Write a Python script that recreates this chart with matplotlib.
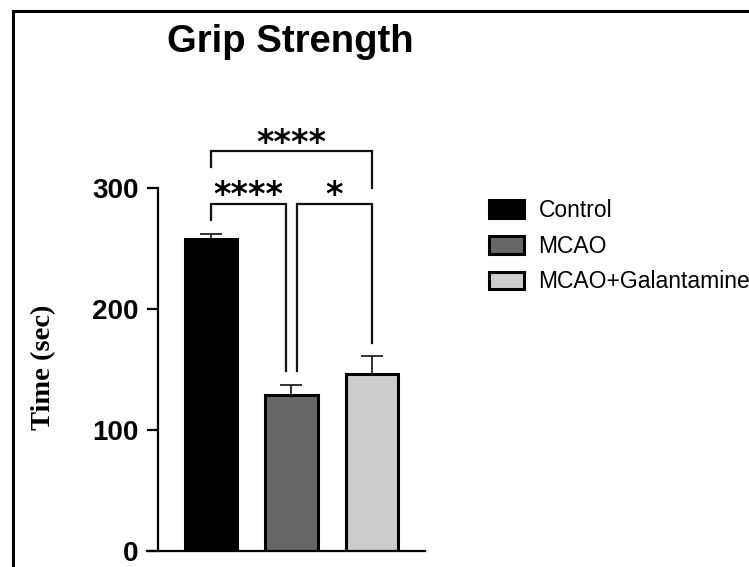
import numpy as np
import matplotlib.pyplot as plt
from matplotlib.patches import Rectangle, Patch

# Grip strength test, mean with upper SEM whisker
groups = ["Control", "MCAO", "MCAO+Galantamine"]
means = [258, 129, 146]
sem = [4, 8, 15]
fills = ["#000000", "#666666", "#cccccc"]

# significance brackets: (left x, right x, left leg end, right leg end, bar height, label)
brackets = [
    (0.0, 0.93, 274, 149, 287, "****"),
    (1.07, 2.0, 149, 172, 287, "*"),
    (0.0, 2.0, 318, 300, 330.5, "****"),
]

fig = plt.figure(figsize=(7.49, 5.67), dpi=100)
ax = fig.add_axes([0.1957, 0.0282, 0.3719, 0.725])

x = np.arange(len(groups))
ax.bar(x, means, width=0.65, color=fills, edgecolor="black", linewidth=2.2, zorder=2)
ax.errorbar(x, means, yerr=[np.zeros(3), sem], fmt="none", ecolor="#222222",
            elinewidth=1.3, capsize=8, capthick=1.3, zorder=1)

for x0, x1, y0, y1, top, lab in brackets:
    ax.plot([x0, x0, x1, x1], [y0, top, top, y1], color="#111111", lw=1.6,
            clip_on=False, solid_joinstyle="miter")
    ax.text((x0 + x1) / 2, top - 1, lab, ha="center", va="baseline", fontsize=24,
            fontweight="bold", family="DejaVu Sans", clip_on=False)

ax.set_xlim(-0.8, 2.66)
ax.set_ylim(0, 340)
ax.spines["left"].set_position(("data", -0.66))
ax.spines["left"].set_bounds(0, 300)
ax.spines["top"].set_visible(False)
ax.spines["right"].set_visible(False)
for s in ("left", "bottom"):
    ax.spines[s].set_linewidth(1.6)
ax.set_xticks([])
ax.set_yticks([0, 100, 200, 300])
ax.tick_params(axis="y", length=8, width=1.6, pad=6)
for t in ax.get_yticklabels():
    t.set_fontsize(20)
    t.set_fontweight("bold")
    t.set_family("Liberation Sans")

fig.text(0.058, 0.352, "Time (sec)", rotation=90, ha="center", va="center",
         fontsize=20.5, fontweight="bold", family="Liberation Serif")
fig.text(0.387, 1 - 52 / 567, "Grip Strength", ha="center", va="baseline",
         fontsize=27.5, fontweight="bold", family="Liberation Sans")

handles = [Patch(facecolor=c, edgecolor="black", linewidth=2.2) for c in fills]
fig.legend(handles, groups, loc="upper left", bbox_to_anchor=(0.641, 0.665),
           frameon=False, prop={"family": "Liberation Sans", "size": 16.5},
           handlelength=1.5, handleheight=0.8, handletextpad=0.65, labelspacing=0.55,
           borderaxespad=0)

# outer frame, cut off on the right and bottom
fig.add_artist(Rectangle((13 / 749, -0.2), 1.2, 1.2 - 11 / 567,
                         transform=fig.transFigure, fill=False, lw=2.2,
                         edgecolor="black", clip_on=False))

fig.savefig("out.png", dpi=100)
